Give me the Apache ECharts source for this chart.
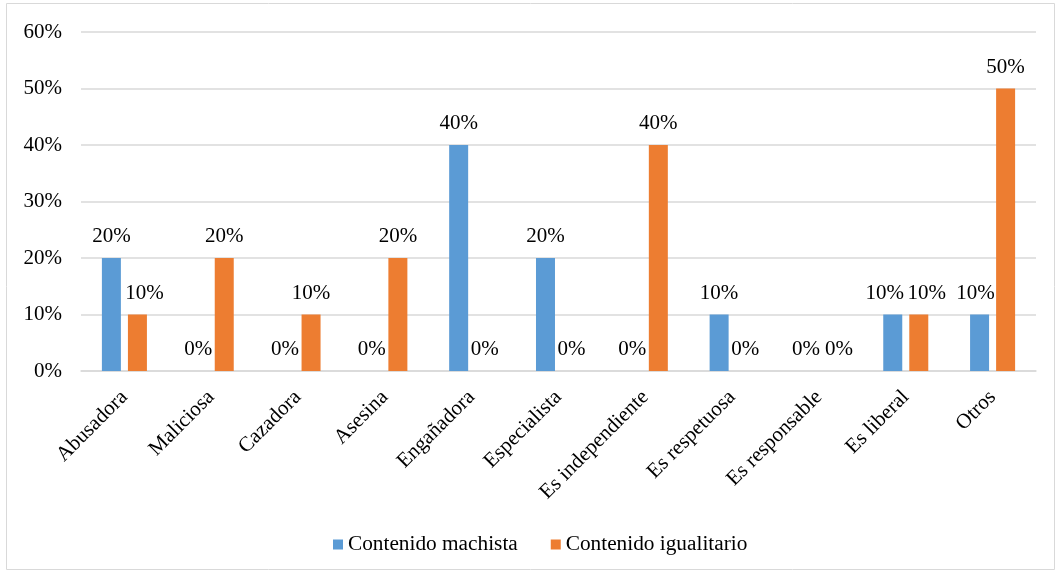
<!DOCTYPE html>
<html>
<head>
<meta charset="utf-8">
<script src="https://cdn.jsdelivr.net/npm/echarts@6/dist/echarts.min.js"></script>
<style>
  html, body { margin: 0; padding: 0; background: #fff; }
  #chart { width: 1062px; height: 574px; }
</style>
</head>
<body>
<div id="chart"></div>
<script>
// Adjetivos atribuidos al personaje, por tipo de contenido (%)
const categories = ['Abusadora', 'Maliciosa', 'Cazadora', 'Asesina', 'Engañadora', 'Especialista',
  'Es independiente', 'Es respetuosa', 'Es responsable', 'Es liberal', 'Otros'];
const machista = [20, 0, 0, 0, 40, 20, 0, 10, 0, 10, 10];
const igualitario = [10, 20, 10, 20, 0, 0, 40, 0, 0, 10, 50];
const seriesNames = ['Contenido machista', 'Contenido igualitario'];

const FONT = '"Liberation Serif", "DejaVu Serif", serif';
const textStyle = { fontFamily: FONT, fontSize: 21, color: '#000' };

// Horizontal nudges (px) so neighbouring value labels don't collide
const labelNudge = [
  { 9: -8, 10: -4 },
  { 0: 7, 8: 7, 9: 8 }
];

function withLabels(values, nudge) {
  return values.map((v, i) => nudge[i] !== undefined
    ? { value: v, label: { offset: [nudge[i], 0] } }
    : v);
}

const colors = ['#5b9bd5', '#ed7d31'];
const seriesValues = [machista, igualitario];

const chart = echarts.init(document.getElementById('chart'));
chart.setOption({
  animation: false,
  textStyle: { fontFamily: FONT },
  graphic: [{
    type: 'rect',
    shape: { x: 6.5, y: 3.5, width: 1048, height: 566 },
    style: { fill: 'none', stroke: '#d9d9d9', lineWidth: 1 }
  }],
  grid: { left: 81, right: 26, top: 32, bottom: 203, containLabel: false },
  legend: {
    bottom: 19,
    left: 333,
    padding: 0,
    itemWidth: 10,
    itemHeight: 10,
    itemGap: 33,
    icon: 'rect',
    textStyle: Object.assign({}, textStyle, { fontSize: 21.3 }),
    data: seriesNames
  },
  xAxis: {
    type: 'category',
    data: categories,
    axisLine: { lineStyle: { color: '#d9d9d9', width: 1.5 } },
    axisTick: { show: false },
    axisLabel: Object.assign({}, textStyle, { rotate: 45, interval: 0, margin: 23 })
  },
  yAxis: {
    type: 'value',
    min: 0,
    max: 60,
    interval: 10,
    axisLine: { show: false },
    axisTick: { show: false },
    splitLine: { lineStyle: { color: '#d9d9d9', width: 1.5 } },
    axisLabel: Object.assign({}, textStyle, { formatter: '{value}%', margin: 19 })
  },
  series: seriesNames.map((name, s) => ({
    name: name,
    type: 'bar',
    data: withLabels(seriesValues[s], labelNudge[s]),
    barWidth: 19,
    barGap: '37%',
    itemStyle: { color: colors[s] },
    label: Object.assign({}, textStyle, { show: true, position: 'top', distance: 11, formatter: '{c}%' })
  }))
});
</script>
</body>
</html>
